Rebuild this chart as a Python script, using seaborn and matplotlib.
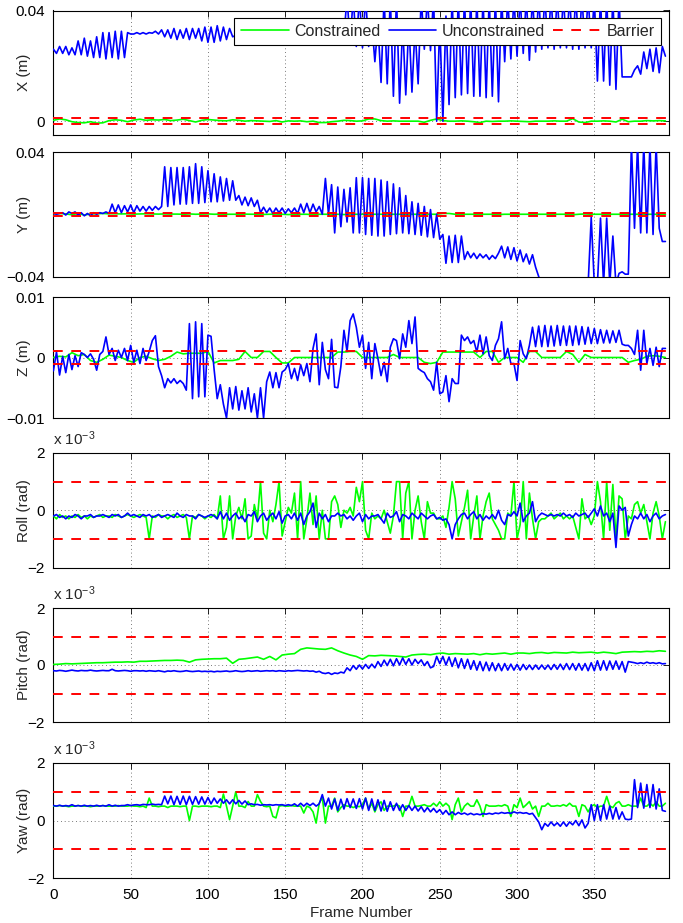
import numpy as np
import matplotlib
matplotlib.use("Agg")
import matplotlib.pyplot as plt
import seaborn as sns
from matplotlib.lines import Line2D

# ---------------- data ----------------
# step-2 series: frames 0,2,...,396 ; step-4 series: frames 0,4,...,396
x_unc_mm = [
    26, 24.5, 27, 24.5, 27, 24, 26.5, 24, 29, 24,
    30, 23.5, 29, 23, 30.5, 23, 32, 22.5, 32, 23,
    32.5, 22.5, 32.5, 23, 32, 31.5, 31.5, 32, 31.5, 32,
    31.5, 32, 31.8, 32.5, 31.5, 33, 30.5, 33, 30, 33.5,
    29.5, 33, 30, 33.5, 29.5, 33.5, 30, 33.5, 29, 34,
    28.5, 34, 28.5, 34.5, 29, 34, 29.5, 33.5, 30.5, 31,
    30.5, 32, 31, 33, 31, 33.5, 31, 33.5, 31.5, 33,
    31.5, 33.5, 31.5, 34, 32, 34, 32, 34.5, 32, 34,
    32.5, 34.5, 32, 35, 32.5, 35, 32, 35.5, 31.5, 35,
    32, 36, 31, 36, 30.5, 45, 28, 45, 27, 45,
    26.5, 45, 27, 36, 21.5, 35, 14, 45, 13.5, 45,
    9, 45, 6.5, 35, 9.5, 36, 10.5, 34, 13.5, 45,
    26, 45, 25.5, 45, 0, 36, 0, 38, 6, 45,
    8.5, 45, 9.5, 45, 10, 45, 9, 45, 9, 45,
    8.5, 45, 9, 45, 7, 45, 21.5, 45, 22.5, 45,
    23.5, 45, 24.5, 45, 22, 45, 25, 45, 26, 45,
    26.5, 45, 26, 45, 26.5, 45, 26.5, 45, 26, 45,
    26, 45, 26.5, 45, 26.5, 45, 14.5, 45, 14.5, 45,
    13, 45, 11.5, 45, 16, 16, 16, 16, 18.5, 20,
    17, 25, 19, 26, 18, 26.5, 17.5, 27, 23.5,
]
x_con_mm = [
    0.3, 0.8, 0.5, -0.2, -0.5, -0.6, -0.2, -0.7, -0.6, 0.2,
    0.5, 0.3, -0.2, 0.4, 0.7, 0.3, 0.5, 0.4, 0.6, 0.2,
    0.4, 0.7, 0.2, -0.3, 0.3, 0.6, 0.4, 0.2, 0.1, 0.5,
    0.3, 0.0, 0.2, 0.1, 0.0, -0.1, 0.2, -0.3, 0.1, 0.0,
    0.1, -0.2, 0.0, -0.5, -0.5, -0.2, 0.0, 0.3, 0.2, 0.0,
    0.1, 0.8, 0.8, 0.2, 0.0, 0.1, 0.0, 0.0, 0.0, 0.0,
    -0.4, 0.3, 0.8, 0.2, 0.0, 0.0, 0.1, 0.0, -0.2, -0.5,
    0.0, -0.1, 0.0, 0.0, 0.1, 0.0, -0.1, -0.2, 0.0, 0.0,
    0.0, 0.1, 0.0, 0.0, 0.9, -0.3, -0.5, 0.0, 0.0, 0.1,
    0.0, -0.3, 0.7, -0.2, 0.0, 0.0, 0.2, 0.1, 0.2, 0.1,
]
y_unc_mm = [
    0.5, 0, 0.5, 1, -0.5, 1.5, 0.5, 1.5, -0.5, 1,
    -1, 0.5, -1, 1, 0, 1, 0.5, 1.5, 0.5, 6.5,
    1, 6, 1, 5.5, 1.5, 6, 1, 5.5, 2, 5,
    2, 5, 2.5, 5, 3, 5, 30.5, 5, 30, 6,
    30, 6.5, 30, 6.5, 30.5, 7, 32.5, 7, 30.5, 7.5,
    28, 8, 26, 8, 24, 8.5, 23, 9, 21.5, 9,
    12, 6, 11, 5.5, 10.5, 5, 9, 1, 4.5, 1,
    4, 0.5, 4, 1, 4, 0.5, 3.5, 1, 4, 0.5,
    6.5, 1, 7, 1, 6.5, 1.5, 5, 0, 23, 0,
    19, -12, 17.5, -8, 16, -5, 17, -12, 23.5, -12,
    23.5, -13, 23, -13.5, 23, -14, 22, -14, 21, -13,
    19.5, -12.5, 17, -12, 12, -12.5, 8, -13, 7, -13.5,
    5, -14.5, 3, -15, 0, -16, -13, -31.5, -14, -31,
    -13.5, -31, -14, -29, -24, -28, -25, -28.5, -25.5, -28,
    -26, -29, -26.5, -28.5, -25, -20.5, -28, -21, -29, -21.5,
    -30, -23, -30.5, -25.5, -32, -26, -34, -40, -45, -45,
    -45, -45, -45, -45, -45, -45, -45, -45, -45, -45,
    -45, -45, -45, -45, -2, -45, -45, -2.5, -45, -2.5,
    -45, -14, -45, -38, -37, -38.5, -38.5, 45, -9, 45,
    -12, 45, -12, 45, -13, 45, -9, -17.5, -17.5,
]
y_con_mm = [
    0.3, 0.5, 0.2, -0.3, 0.5, -0.5, 0.2, 0.3, 0.5, 0.3,
    0.3, 0.2, 0.3, 0.1, 0.2, 0.3, 0.2, 0.1, 0.2, 0.1,
    0.1, 0.0, 0.2, 0.0, 0.1, 0.2, 0.0, 0.1, 0.0, 0.0,
    0.0, 0.1, 0.0, 0.0, -0.1, 0.0, 0.1, 0.0, -0.2, 0.0,
    0.0, 0.0, -0.3, 0.0, 0.0, 0.0, 0.0, -0.2, 0.0, 0.0,
    0.0, 0.0, 0.0, 0.0, 0.0, 0.0, 0.0, 0.0, 0.0, 0.0,
    0.0, 0.0, 0.0, 0.5, 0.5, 0.0, 0.0, 0.0, 0.0, 0.0,
    0.0, 0.0, -0.2, 0.0, 0.0, 0.0, 0.0, 0.0, 0.0, 0.0,
    0.0, 0.0, 0.0, 0.0, -0.3, 0.0, 0.2, 0.0, 0.0, 0.0,
    0.0, 0.0, 0.0, 0.0, 0.0, 0.0, 0.0, 0.0, 0.0, 0.0,
]
z_unc_mm = [
    -2.2, 0.9, -2.9, 0.2, -2.5, 0.5, -2, 0.3, -1.5, 0.8,
    0.5, 0, 0.6, -0.3, -2.1, 0.5, 1, 3.4, 0.5, 1.5,
    -0.5, 1.2, 0, 1.5, -0.5, 2, -0.8, 1.2, -1, 1.5,
    -0.5, 1, 2.8, 3.6, -1.5, -3, -5, -3.5, -4.2, -3.5,
    -4.3, -3.8, -4.3, -5.4, 5.6, -6.8, 5.9, -6.5, 5.6, -6.5,
    3.7, 3.5, -2, -6.8, -4.5, -7.7, -10, -5, -8.5, -4.8,
    -8.7, -5.5, -8.5, -5, -9, -6, -10, -5, -10, -4,
    -2.4, -5, -2.5, -5, -2.4, -2, -1, -3.5, -1.8, -3.8,
    -1.2, -3, -1, -4, 1.5, 3.9, -4.5, 2.5, -2, -3.5,
    3, -4.9, -5, -1.5, 4.5, 1, 6.1, 7.2, 5, 1.7,
    3.7, -1.8, 2.5, -3.5, 2.3, -0.2, -3, -0.8, -4, 1.7,
    3.1, 2.8, -0.2, 3.9, 1.7, 6.1, 2.3, 6.7, -1.8, -2.2,
    -2.5, -3.5, -4, -5.4, -0.8, -6, -5.7, -3, -7.3, -3.5,
    -4.3, -4.3, 3.7, 2.8, 3.4, 2.3, 2.8, 0.9, 3.7, 0.6,
    3.4, 0.3, -0.5, 2, 3.1, 5.9, -0.2, 1.5, -1, -1,
    -3.8, 2.8, 0.6, -0.2, 2, 5, 1.8, 5.2, 1.8, 5.3,
    1.8, 5.2, 1.9, 5.3, 2, 5.2, 2, 5.2, 2, 5.2,
    2.1, 5.1, 2.2, 5, 2.3, 4.8, 2.3, 4.6, 2.4, 4.5,
    2.4, 4.4, 2.5, 4.5, 2.2, 2, 2, 1.5, 0.5, 4.5,
    -2.1, 4.5, -1, 1.5, -1.3, 1.7, -1.5, 1.5, 1.5,
]
z_con_mm = [
    0, 0.2, 0.1, 0.8, 0.3, 0.5, -0.5, -0.8, -0.3, 0.4,
    0.2, 0, -0.5, -0.8, 0, 0.2, -0.2, -0.5, -0.3, 0.2,
    0.9, 0.6, 0.7, 0.7, 0.7, 1, -0.9, -0.5, -0.5, -0.5,
    -0.3, 1, 0, 0, 1, 1, 0, -0.9, -0.9, 0,
    0, 0, 0, 0, 0, 0, 0.9, 0.9, 1, 1,
    0, 0, 0, 0, 0, 0.5, 0, 0, 0, 0,
    -0.8, -1, -0.8, 0.9, 0.9, 0.9, 0.9, 0.9, 0.9, 0,
    1, 1, -0.8, 0, 0, 0, -0.8, 1, 1, 0,
    0, 0, 0, 1, 0.5, -0.8, 0.5, 0, 0, 0,
    0, 0, 0, -0.8, -0.5, -0.3, 0.2, 0.3, 0.2, 0,
]
roll_con_mrad = [
    -0.2, -0.3, -0.15, -0.25, -0.2, -0.3, -0.2, -0.25, -0.15, -0.25,
    -0.2, -0.3, -0.2, -0.25, -0.2, -0.15, -0.25, -0.2, -0.2, -0.25,
    -0.15, -0.2, -0.25, -0.2, -0.15, -0.2, -0.25, -0.2, -0.15, -0.2,
    -0.25, -1.0, -0.2, -0.25, -0.15, -0.2, -0.2, -0.3, -0.2, -0.15,
    -0.25, -0.2, -0.15, -0.25, -1.0, -0.2, -0.25, -0.15, -0.2, -0.3,
    -0.2, -0.25, -0.15, -0.3, 0.5, -1.0, -0.6, 0.5, -1.0, -0.2,
    0.1, -0.3, 0.4, -1.0, -0.9, 0.2, -0.3, 1.0, -0.8, -1.0,
    0.0, -0.4, 0.2, 1.0, -0.9, -0.4, 0.1, -0.1, 0.6, -1.0,
    1.0, -1.0, -0.3, 0.6, -0.5, 0.5, -1.0, 0.0, -1.0, -1.0,
    0.3, 0.5, 0.2, -0.6, 0.0, -0.1, 0.1, -0.2, 0.8, 0.3,
    1.0, -0.7, -1.0, -0.1, -0.3, -0.2, -0.3, 0.0, -0.4, -0.8,
    -0.2, 1.0, 1.0, -1.0, 0.6, 1.0, -1.0, 0.0, 0.5, -0.4,
    -1.0, 0.3, -0.1, -0.1, -0.3, -0.3, -0.2, -0.6, 0.1, 1.0,
    0.4, -0.9, -0.4, 0.1, 0.7, -1.0, -0.2, 0.5, -1.0, -0.2,
    0.3, 0.6, -0.3, -0.5, -0.7, -1.0, -1.0, -0.1, -0.2, 1.0,
    -1.0, -0.5, 1.0, -1.0, 0.6, -0.3, -1.0, -0.4, -0.3, -0.3,
    -0.2, -0.1, -0.3, -0.2, -0.1, -0.3, -0.2, -0.3, -0.2, -0.6,
    -1.0, 0.4, -0.3, -0.2, -0.5, -0.2, 1.0, 0.3, -1.0, 1.0,
    -0.7, 0.9, -1.0, 0.5, 0.4, -1.0, -0.2, -0.3, 0.2, 0.3,
    -0.1, 0.2, -0.4, -1.0, -0.1, 0.3, -0.2, -1.0, -0.4,
]
roll_unc_mrad = [
    -0.2, -0.15, -0.25, -0.2, -0.3, -0.2, -0.25, -0.15, -0.2, -0.3,
    -0.2, -0.2, -0.15, -0.25, -0.2, -0.2, -0.15, -0.2, -0.25, -0.15,
    -0.2, -0.15, -0.25, -0.2, -0.1, -0.2, -0.15, -0.2, -0.25, -0.15,
    -0.2, -0.15, -0.25, -0.2, -0.15, -0.25, -0.2, -0.15, -0.2, -0.25,
    -0.1, -0.2, -0.25, -0.15, -0.2, -0.2, -0.3, -0.15, -0.2, -0.25,
    -0.2, -0.15, -0.2, -0.3, -0.05, -0.3, -0.1, -0.35, -0.2, -0.1,
    -0.3, -0.2, -0.4, -0.15, -0.2, -0.05, -0.4, -0.2, -0.1, -0.35,
    -0.2, -0.1, -0.3, -0.05, -0.45, -0.2, -0.15, -0.3, -0.1, -0.35,
    -0.1, -0.5, -0.2, -0.05, 0.25, -0.6, -0.1, -0.3, -0.15, -0.4,
    -0.2, -0.2, -0.1, -0.2, -0.15, -0.3, -0.2, -0.35, -0.2, -0.1,
    -0.4, -0.15, -0.3, -0.2, -0.2, -0.15, -0.3, -0.45, -0.1, -0.25,
    -0.2, -0.05, -0.4, -0.15, -0.2, -0.3, -0.1, -0.2, -0.3, -0.1,
    -0.2, -0.3, -0.2, -0.15, -0.3, -0.25, -0.35, -0.3, -0.5, -1.0,
    -0.5, -0.3, -0.15, -0.1, -0.3, -0.15, -0.05, -0.3, -0.15, -0.35,
    -0.2, -0.3, -0.15, -0.3, 0.0, -0.35, -0.5, -0.15, -0.2, -0.05,
    -0.2, 0.25, -0.4, -0.2, -0.1, 0.3, -0.4, -0.2, -0.1, -0.15,
    -0.2, -0.15, -0.2, -0.15, -0.2, -0.1, -0.2, -0.15, -0.25, -0.1,
    -0.2, -0.15, -0.1, -0.25, -0.1, 0.05, -0.2, 0.15, -0.2, -0.1,
    -0.4, -0.1, -1.3, 0.15, 0.0, 0.1, -0.9, -0.5, -0.2, -0.3,
    -0.1, -0.3, -0.15, -0.4, -0.2, -0.1, -0.3, -0.2, -0.15,
]
pitch_con_mrad = [
    0.02, 0.03, 0.05, 0.04, 0.05, 0.06, 0.07, 0.08, 0.08, 0.09,
    0.1, 0.1, 0.11, 0.1, 0.13, 0.13, 0.14, 0.15, 0.16, 0.16,
    0.17, 0.16, 0.1, 0.18, 0.2, 0.21, 0.22, 0.22, 0.24, 0.06,
    0.2, 0.22, 0.25, 0.28, 0.2, 0.3, 0.18, 0.35, 0.38, 0.4,
    0.55, 0.6, 0.58, 0.56, 0.55, 0.6, 0.5, 0.42, 0.35, 0.3,
    0.2, 0.33, 0.32, 0.34, 0.33, 0.32, 0.3, 0.28, 0.35, 0.37,
    0.38, 0.36, 0.4, 0.42, 0.38, 0.4, 0.39, 0.38, 0.4, 0.36,
    0.4, 0.38, 0.4, 0.42, 0.38, 0.42, 0.42, 0.4, 0.43, 0.44,
    0.41, 0.44, 0.43, 0.42, 0.45, 0.43, 0.44, 0.45, 0.42, 0.45,
    0.43, 0.4, 0.45, 0.46, 0.47, 0.46, 0.48, 0.47, 0.5, 0.48,
]
pitch_unc_mrad = [
    -0.2, -0.21, -0.19, -0.2, -0.22, -0.2, -0.18, -0.2, -0.21, -0.19,
    -0.2, -0.2, -0.18, -0.2, -0.21, -0.2, -0.19, -0.2, -0.2, -0.15,
    -0.2, -0.21, -0.2, -0.19, -0.2, -0.22, -0.2, -0.2, -0.21, -0.2,
    -0.22, -0.2, -0.21, -0.22, -0.2, -0.22, -0.24, -0.21, -0.22, -0.2,
    -0.22, -0.23, -0.22, -0.2, -0.22, -0.23, -0.22, -0.21, -0.23, -0.22,
    -0.23, -0.22, -0.24, -0.22, -0.23, -0.22, -0.21, -0.23, -0.22, -0.2,
    -0.22, -0.23, -0.22, -0.2, -0.22, -0.21, -0.2, -0.22, -0.21, -0.2,
    -0.21, -0.2, -0.22, -0.2, -0.21, -0.22, -0.2, -0.21, -0.2, -0.19,
    -0.2, -0.21, -0.2, -0.22, -0.21, -0.25, -0.22, -0.28, -0.3, -0.27,
    -0.33, -0.28, -0.3, -0.25, -0.28, -0.1, -0.2, -0.02, -0.15, 0.0,
    -0.14, 0.02, -0.12, 0.03, -0.1, 0.12, -0.05, 0.17, -0.02, 0.2,
    -0.03, 0.22, 0.0, 0.25, 0.02, 0.22, 0.0, 0.2, 0.05, 0.18,
    -0.02, 0.12, -0.1, -0.05, 0.3, 0.05, 0.3, 0.0, 0.28, -0.05,
    0.25, -0.1, 0.22, -0.12, 0.2, -0.15, 0.15, -0.18, 0.12, -0.2,
    0.1, -0.2, 0.08, -0.2, 0.05, -0.2, 0.05, -0.18, 0.03, -0.18,
    0.02, -0.18, 0.02, -0.16, 0.0, -0.16, 0.0, -0.15, 0.0, -0.15,
    0.0, -0.16, 0.02, -0.15, 0.03, -0.16, 0.05, -0.16, 0.05, -0.18,
    0.05, -0.18, 0.05, -0.2, 0.08, -0.2, 0.15, -0.18, 0.15, -0.18,
    0.14, -0.15, 0.14, -0.15, 0.12, -0.25, 0.12, 0.1, 0.08, 0.05,
    0.08, 0.05, 0.1, 0.06, 0.08, 0.05, 0.08, 0.04, 0.05,
]
yaw_unc_mrad = [
    0.52, 0.5, 0.53, 0.5, 0.52, 0.5, 0.55, 0.5, 0.52, 0.5,
    0.53, 0.5, 0.52, 0.5, 0.53, 0.5, 0.52, 0.5, 0.55, 0.5,
    0.53, 0.5, 0.52, 0.52, 0.55, 0.52, 0.54, 0.55, 0.53, 0.56,
    0.55, 0.55, 0.57, 0.55, 0.56, 0.55, 0.85, 0.58, 0.85, 0.55,
    0.84, 0.56, 0.85, 0.55, 0.84, 0.56, 0.83, 0.57, 0.82, 0.57,
    0.8, 0.58, 0.78, 0.6, 0.75, 0.6, 0.72, 0.58, 0.72, 0.58,
    0.7, 0.57, 0.68, 0.55, 0.58, 0.55, 0.56, 0.53, 0.55, 0.54,
    0.55, 0.53, 0.55, 0.54, 0.55, 0.52, 0.55, 0.52, 0.58, 0.5,
    0.6, 0.5, 0.6, 0.52, 0.6, 0.5, 0.58, 0.9, 0.5, 0.78,
    0.4, 0.75, 0.35, 0.74, 0.4, 0.76, 0.45, 0.75, 0.42, 0.76,
    0.4, 0.78, 0.35, 0.75, 0.35, 0.72, 0.33, 0.7, 0.32, 0.65,
    0.35, 0.6, 0.35, 0.55, 0.35, 0.52, 0.35, 0.5, 0.33, 0.48,
    0.3, 0.45, 0.3, 0.42, 0.28, 0.38, 0.22, 0.35, 0.2, 0.3,
    0.2, 0.28, 0.22, 0.26, 0.2, 0.25, 0.2, 0.23, 0.2, 0.24,
    0.22, 0.25, 0.22, 0.26, 0.24, 0.28, 0.25, 0.27, 0.25, 0.3,
    0.26, 0.28, 0.25, 0.27, 0.22, 0.25, 0.1, -0.05, -0.32, -0.1,
    -0.2, -0.05, -0.18, -0.08, -0.2, -0.05, -0.2, -0.05, -0.15, 0.0,
    -0.18, 0.02, -0.26, -0.1, 0.55, 0.0, 0.55, 0.0, 0.55, 0.05,
    0.5, 0.05, 0.45, 0.05, 0.3, 0.05, 0.03, 0.05, 1.42, 0.45,
    1.3, 0.43, 1.25, 0.45, 1.25, 0.4, 1.1, 0.35, 0.32,
]
yaw_con_mrad = [
    0.5, 0.5, 0.52, 0.5, 0.5, 0.48, 0.5, 0.5, 0.52, 0.5,
    0.5, 0.5, 0.48, 0.5, 0.5, 0.5, 0.52, 0.5, 0.5, 0.5,
    0.5, 0.52, 0.5, 0.5, 0.5, 0.52, 0.5, 0.5, 0.48, 0.5,
    0.45, 0.78, 0.5, 0.5, 0.48, 0.5, 0.5, 0.45, 0.5, 0.5,
    0.5, 0.48, 0.5, 0.5, 0.0, 0.5, 0.5, 0.48, 0.5, 0.5,
    0.5, 0.48, 0.5, 0.5, 0.45, 0.92, 0.5, 0.03, 0.5, 1.0,
    0.5, 0.5, 0.45, 0.66, 0.5, 0.5, 0.9, 0.66, 0.5, 0.48,
    0.5, 0.14, 0.09, 0.5, 0.52, 0.5, 0.5, 0.52, 0.5, 0.5,
    0.5, 0.26, 0.5, 0.45, 0.3, -0.09, 0.6, 0.8, -0.09, 0.5,
    0.5, 0.78, 0.3, 0.45, 0.55, 0.5, 0.5, 0.45, 0.5, 0.48,
    0.55, 0.78, 0.4, 0.6, 0.3, 0.55, 0.65, 0.35, 0.5, 0.5,
    0.5, 0.55, 0.5, 0.14, 0.5, 0.5, 0.84, 0.5, 0.5, 0.52,
    0.55, 0.5, 0.5, 0.6, 0.5, 0.65, 0.5, 0.6, 0.5, 0.03,
    0.55, 0.78, 0.3, 0.5, 0.6, 0.5, 0.5, 0.72, 0.5, 0.14,
    0.55, 0.5, 0.5, 0.5, 0.52, 0.5, 0.55, 0.5, 0.14, 0.55,
    0.45, 0.78, 0.45, 0.55, 0.66, 0.4, 0.5, 0.14, 0.5, 0.5,
    0.6, 0.5, 0.5, 0.52, 0.5, 0.55, 0.5, 0.6, 0.5, 0.5,
    0.14, 0.55, 0.5, 0.3, 0.5, 0.55, 0.45, 0.5, 0.5, 0.84,
    0.5, 0.45, 0.6, 0.66, 0.5, 0.5, 0.55, 0.5, 0.5, 0.5,
    0.78, 0.5, 0.5, 0.6, 0.5, 0.65, 0.5, 0.5, 0.6,
]
barrier_pos = [0.001, 0.001, 0.001, 1e-3, 1e-3, 1e-3]   # in SI units

ylabels = ["X (m)", "Y (m)", "Z (m)", "Roll (rad)", "Pitch (rad)", "Yaw (rad)"]
xticks = [0, 50, 100, 150, 200, 250, 300, 350]
legend_labels = ["Constrained", "Unconstrained", "Barrier"]

# ---------------- style ----------------
sns.set_style("white")
plt.rcParams["font.family"] = ["Liberation Sans", "DejaVu Sans"]
plt.rcParams["mathtext.fontset"] = "custom"
plt.rcParams["mathtext.rm"] = "Liberation Sans"
plt.rcParams["mathtext.it"] = "Liberation Sans"
plt.rcParams["axes.unicode_minus"] = True

GREEN, BLUE, RED = "#00ff00", "#0000ff", "#ff0000"
LW = 1.2
FS = 11

W, H = 683, 923
fig = plt.figure(figsize=(W / 100, H / 100), dpi=100)
fig.patch.set_facecolor("white")
left_px, right_px = 53.4, 668.5
panels_px = [(10.5, 135), (152, 276.5), (297, 418), (453, 567.5), (608, 722), (763, 878)]


def frames(arr, step):
    return np.arange(len(arr)) * step


series = [
    (np.array(x_con_mm) / 1000, 4, np.array(x_unc_mm) / 1000, 2),
    (np.array(y_con_mm) / 1000, 4, np.array(y_unc_mm) / 1000, 2),
    (np.array(z_con_mm) / 1000, 4, np.array(z_unc_mm) / 1000, 2),
    (np.array(roll_con_mrad) / 1000, 2, np.array(roll_unc_mrad) / 1000, 2),
    (np.array(pitch_con_mrad) / 1000, 4, np.array(pitch_unc_mrad) / 1000, 2),
    (np.array(yaw_con_mrad) / 1000, 2, np.array(yaw_unc_mrad) / 1000, 2),
]
ylims = [(-0.005, 0.04), (-0.04, 0.04), (-0.01, 0.01), (-2e-3, 2e-3), (-2e-3, 2e-3), (-2e-3, 2e-3)]
yticks = [[0, 0.04], [-0.04, 0.04], [-0.01, 0, 0.01], [-2e-3, 0, 2e-3], [-2e-3, 0, 2e-3], [-2e-3, 0, 2e-3]]
yticklabels = [["0", "0.04"], ["\u22120.04", "0.04"], ["\u22120.01", "0", "0.01"],
               ["\u22122", "0", "2"], ["\u22122", "0", "2"], ["\u22122", "0", "2"]]

axes = []
for i, (top, bot) in enumerate(panels_px):
    ax = fig.add_axes([left_px / W, 1 - bot / H, (right_px - left_px) / W, (bot - top) / H])
    axes.append(ax)
    con, sc, unc, su = series[i]
    sns.lineplot(x=frames(con, sc), y=con, ax=ax, color=GREEN, linewidth=LW,
                 estimator=None, sort=False, legend=False, zorder=3)
    sns.lineplot(x=frames(unc, su), y=unc, ax=ax, color=BLUE, linewidth=LW,
                 estimator=None, sort=False, legend=False, zorder=4)
    b = barrier_pos[i]
    for yb in (b, -b):
        sns.lineplot(x=[0, 398], y=[yb, yb], ax=ax, color=RED, linewidth=1.4,
                     estimator=None, legend=False, zorder=5, dashes=False)
        ax.lines[-1].set_dashes((5.0, 4.4))
    ax.set_xlim(0, 398)
    ax.set_ylim(*ylims[i])
    ax.set_xticks(xticks)
    ax.set_yticks(yticks[i])
    ax.set_yticklabels(yticklabels[i])
    if i < 5:
        ax.set_xticklabels([])
    ax.set_xlabel("")
    ax.set_ylabel(ylabels[i], fontsize=FS)
    ax.yaxis.set_label_coords(-0.036, 0.5)
    ax.tick_params(direction="in", top=True, right=True, length=4, width=0.6,
                   labelsize=FS, colors="black")
    ax.tick_params(axis="y", pad=6)
    ax.tick_params(axis="x", pad=7)
    ax.grid(True, color="0.3", linestyle=(0, (1, 3.5)), linewidth=0.6)
    ax.set_axisbelow(True)
    for s in ax.spines.values():
        s.set_linewidth(0.8)
        s.set_color("black")
    if i >= 3:
        ax.text(0, 1 + 8 / (bot - top), r"x 10$^{-3}$", transform=ax.transAxes,
                ha="left", va="baseline", fontsize=FS)

axes[-1].set_xlabel("Frame Number", fontsize=FS, labelpad=3)

handles = [Line2D([], [], color=GREEN, lw=LW),
           Line2D([], [], color=BLUE, lw=LW),
           Line2D([], [], color=RED, lw=1.4, dashes=(5.0, 4.4))]
leg = axes[0].legend(handles, legend_labels, loc="upper right", ncol=3, frameon=True,
                     fancybox=False, edgecolor="black", framealpha=1, fontsize=11.5,
                     handlelength=3.0, handletextpad=0.35, columnspacing=0.5,
                     borderpad=0.4, borderaxespad=0.45)
leg.get_frame().set_linewidth(0.8)
leg.set_zorder(10)

fig.savefig("out.png", dpi=100, facecolor="white")
